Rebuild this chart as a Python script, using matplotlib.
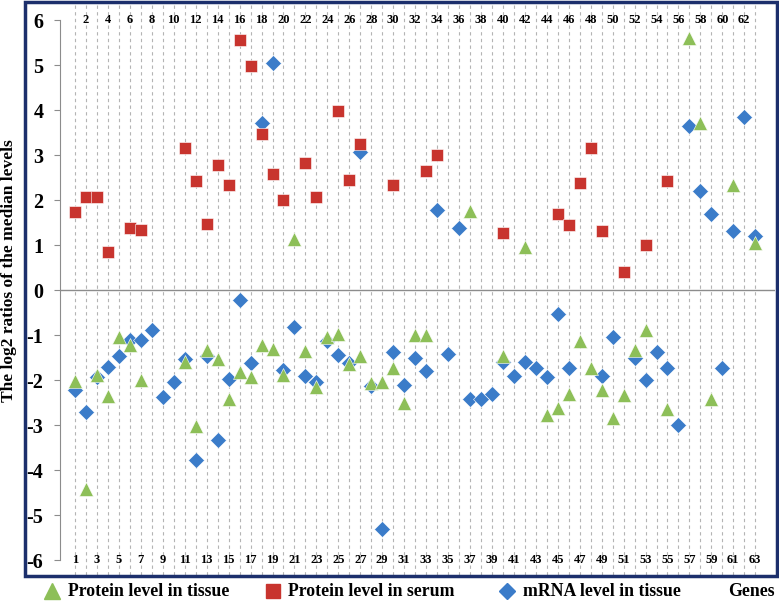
import numpy as np
import matplotlib
matplotlib.use("Agg")
import matplotlib.pyplot as plt
from matplotlib.patches import Rectangle
from matplotlib.lines import Line2D

nan = np.nan

# Номера генов
genes = np.arange(1, 64)

# Белок в ткани (зелёные треугольники)
protein_tissue = [
    -2.02, -4.43, -1.89, -2.36, -1.04, -1.22, -2.00, nan, nan, nan,
    -1.59, -3.02, -1.33, -1.53, -2.41, -1.82, -1.93, -1.21, -1.30, -1.89,
    1.13, -1.35, -2.15, -1.04, -0.98, -1.65, -1.47, -2.06, -2.04, -1.73,
    -2.50, -1.00, -1.00, nan, nan, nan, 1.76, nan, nan, -1.47,
    nan, 0.96, nan, -2.78, -2.61, -2.30, -1.13, -1.74, -2.21, -2.85,
    -2.33, -1.32, -0.89, nan, -2.65, nan, 5.61, 3.72, -2.42, nan,
    2.33, nan, 1.04,
]

# Белок в сыворотке (красные квадраты)
protein_serum = [
    1.73, 2.07, 2.07, 0.85, nan, 1.37, 1.33, nan, nan, nan,
    3.15, 2.42, 1.46, 2.78, 2.33, 5.56, 4.99, 3.48, 2.59, 2.00,
    nan, 2.83, 2.07, nan, 3.98, 2.44, 3.24, nan, nan, 2.33,
    nan, nan, 2.65, 3.00, nan, nan, nan, nan, nan, 1.26,
    nan, nan, nan, nan, 1.70, 1.45, 2.39, 3.15, 1.32, nan,
    0.41, nan, 1.00, nan, 2.42, nan, nan, nan, nan, nan,
    nan, nan, nan,
]

# мРНК в ткани (синие ромбы)
mrna_tissue = [
    -2.21, -2.70, -1.93, -1.70, -1.46, -1.10, -1.11, -0.89, -2.37, -2.04,
    -1.53, -3.78, -1.47, -3.33, -1.98, -0.21, -1.63, 3.72, 5.04, -1.78,
    -0.83, -1.91, -2.04, -1.13, -1.44, -1.63, 3.07, -2.13, -5.30, -1.37,
    -2.10, -1.50, -1.79, 1.78, -1.41, 1.38, -2.41, -2.41, -2.30, -1.59,
    -1.91, -1.59, -1.72, -1.93, -0.52, -1.72, nan, nan, -1.91, -1.05,
    nan, -1.50, -2.00, -1.37, -1.74, -3.00, 3.64, 2.20, 1.70, -1.72,
    1.32, 3.85, 1.20,
]

green = '#8DBF58'
red = '#C8342E'
blue = '#3B7CC9'
navy = '#1C2F6C'
serif = 'Liberation Serif'

W, H = 779, 601
fig = plt.figure(figsize=(W / 100, H / 100), dpi=100)
ax = fig.add_axes([60 / W, 1 - 575 / H, 715 / W, 572 / H])

ax.set_xlim(-0.37, 64.8)
ax.set_ylim(-6.33, 6.38)

# Вертикальная сетка по генам
for g in genes:
    ax.axvline(g, color='#B4B4B4', lw=0.8, ls=(0, (3, 3)), zorder=0)
ax.axhline(0, color='#8C8C8C', lw=1.0, zorder=1)

ax.plot(genes, mrna_tissue, 'D', color=blue, ms=8, mec='white', mew=0.4, zorder=3)
ax.plot(genes, protein_serum, 's', color=red, ms=9, mec='white', mew=0.4, zorder=3)
ax.plot(genes, protein_tissue, '^', color=green, ms=10.5, mec='white', mew=0.4, zorder=4)

# Подписи генов: чётные сверху, нечётные снизу
for g in genes:
    yy = 6 if g % 2 == 0 else -6
    ax.text(g, yy, str(g), ha='center', va='center', fontsize=9,
            fontweight='bold', family=serif, zorder=5)

ax.set_xticks([])
ax.set_yticks(range(-6, 7))
ax.set_yticklabels([str(v) for v in range(-6, 7)], fontsize=14.5,
                   fontweight='bold', family=serif)
ax.tick_params(axis='y', length=4, color='#8C8C8C', pad=8)
for s in ['top', 'right', 'bottom']:
    ax.spines[s].set_visible(False)
ax.spines['left'].set_color('#8C8C8C')
ax.spines['left'].set_bounds(-6, 6)
ax.patch.set_alpha(0)

# Рамка вокруг графика
fig.patches.append(Rectangle((25 / W, 1 - 576 / H), 752 / W, 574 / H,
                             transform=fig.transFigure, fill=False,
                             edgecolor=navy, lw=2.5))

fig.text(9 / W, 1 - 271 / H, 'The log2 ratios of the median levels', rotation=90,
         ha='center', va='center', fontsize=12.5, fontweight='bold', family=serif)

# Легенда под рамкой
ly = 1 - 591 / H
items = [('^', green, 'Protein level in tissue', 52, 68, 11.5),
         ('s', red, 'Protein level in serum', 273, 288, 10),
         ('D', blue, 'mRNA level in tissue', 507, 523, 8.5)]
for m, c, lab, mx, tx, ms in items:
    fig.add_artist(Line2D([mx / W], [ly], marker=m, color=c, ms=ms, ls='none',
                          transform=fig.transFigure))
    fig.text(tx / W, ly, lab, ha='left', va='center', fontsize=12.8,
             fontweight='bold', family=serif)
fig.text(775 / W, ly, 'Genes', ha='right', va='center', fontsize=12.8,
         fontweight='bold', family=serif)

fig.savefig('out.png', dpi=100)
